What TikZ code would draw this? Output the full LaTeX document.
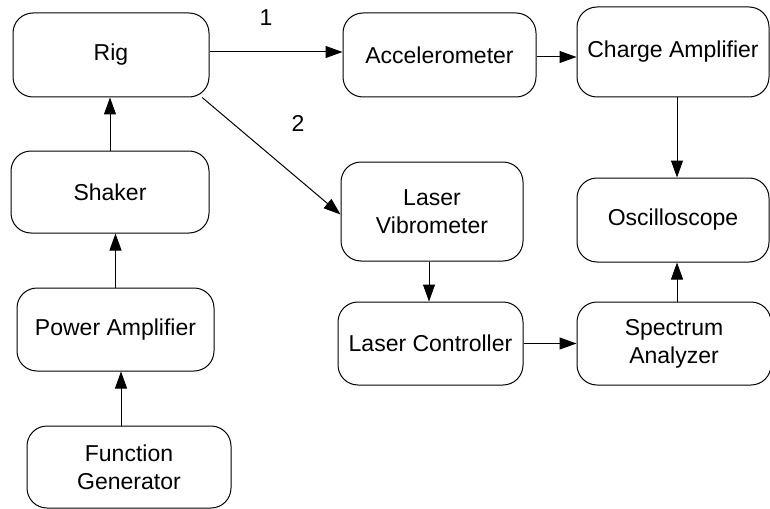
\documentclass[tikz,border=0pt]{standalone}
\usepackage{fontspec}
\setmainfont{Liberation Sans}
\usetikzlibrary{arrows.meta,calc}
\begin{document}
\begin{tikzpicture}[x=1pt,y=-1pt,
  box/.style={draw,line width=1pt,rounded corners=20pt,align=center,inner sep=0pt,
    font=\fontsize{23}{28}\selectfont},
  arr/.style={draw,line width=1pt,-{Triangle[length=17pt,width=12pt]}},
  lbl/.style={font=\fontsize{23}{28}\selectfont,inner sep=0pt}]
\useasboundingbox (0,0) rectangle (770,508);
\node[box,minimum width=196pt,minimum height=84pt] (rig) at (111,55) {Rig};
\node[box,minimum width=198pt,minimum height=82pt] (shaker) at (110,192) {Shaker};
\node[box,minimum width=197pt,minimum height=83pt] (pa) at (115.5,329.5) {Power Amplifier};
\node[box,minimum width=204pt,minimum height=82pt] (fg) at (129,467) {Function\\Generator};
\node[box,minimum width=193pt,minimum height=84pt] (acc) at (439.5,55) {Accelerometer};
\node[box,minimum width=192pt,minimum height=90pt] (ca) at (673,52) {Charge Amplifier};
\node[box,minimum width=182pt,minimum height=99pt] (lv) at (432,211.5) {Laser\\Vibrometer};
\node[box,minimum width=192pt,minimum height=84pt] (osc) at (673,220) {Oscilloscope};
\node[box,minimum width=185pt,minimum height=83pt] (lc) at (430.5,343.5) {Laser Controller};
\node[box,minimum width=194pt,minimum height=83pt] (sa) at (674,343.5) {Spectrum\\Analyzer};
\node[lbl] (l1) at (266,18) {1};
\node[lbl] (l2) at (298,123) {2};
\draw[arr] ([yshift=3pt]rig.east) -- ([yshift=3pt]acc.west);
\draw[arr] (rig.-25) -- ([yshift=-3pt]lv.west);
\draw[arr] ([yshift=-2pt]acc.east) -- ([yshift=-2pt]acc.east -| ca.west);
\draw[arr] ([xshift=4pt]ca.south) -- ([xshift=4pt]ca.south |- osc.north);
\draw[arr] ([xshift=3pt]sa.north) -- ([xshift=3pt]sa.north |- osc.south);
\draw[arr] (lc.east) -- (lc.east -| sa.west);
\draw[arr] ([xshift=-3pt]lv.south) -- ([xshift=-3pt]lv.south |- lc.north);
\draw[arr] (shaker.north) -- (shaker.north |- rig.south);
\draw[arr] (pa.north) -- (pa.north |- shaker.south);
\draw[arr] ([xshift=-8pt]fg.north) -- ([xshift=-8pt]fg.north |- pa.south);
\end{tikzpicture}
\end{document}
